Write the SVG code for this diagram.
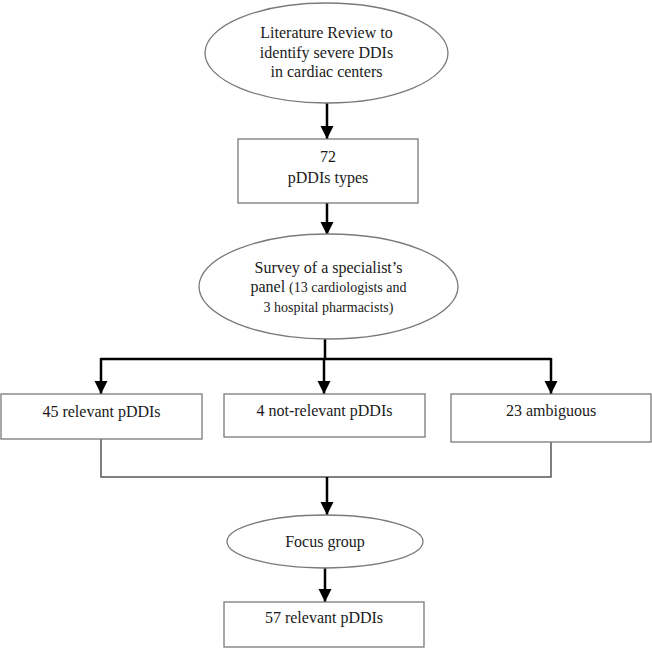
<svg xmlns="http://www.w3.org/2000/svg" width="652" height="648" viewBox="0 0 652 648">
<style>
  .shape { fill: #ffffff; stroke: #7a7a7a; stroke-width: 1.3; }
  .t { font-family: "Liberation Serif", "Times New Roman", serif; font-size: 16px; fill: #1a1a1a; text-anchor: middle; }
  .s { font-size: 14px; }
  .arrow { fill: none; stroke: #000000; stroke-width: 2.5; }
  .thin { fill: none; stroke: #555555; stroke-width: 1.5; }
</style>
<defs>
  <marker id="ah" markerUnits="userSpaceOnUse" markerWidth="14" markerHeight="14" viewBox="0 0 14 14" refX="13" refY="7" orient="auto">
    <path d="M0,0.5 L13,7 L0,13.5 Z" fill="#000000"/>
  </marker>
</defs>
<rect width="652" height="648" fill="#ffffff"/>

<g id="connectors">
  <path class="arrow" d="M327,103 L327,139" marker-end="url(#ah)"/>
  <path class="arrow" d="M327,203 L327,235" marker-end="url(#ah)"/>
  <path class="arrow" d="M325,339 L325,359"/>
  <path class="arrow" d="M101,359 L551,359"/>
  <path class="arrow" d="M101,358 L101,394" marker-end="url(#ah)"/>
  <path class="arrow" d="M324,358 L324,394" marker-end="url(#ah)"/>
  <path class="arrow" d="M551,358 L551,394" marker-end="url(#ah)"/>
  <path class="thin" d="M101,439 L101,477 L551,477 L551,442"/>
  <path class="arrow" d="M327,477 L327,515" marker-end="url(#ah)"/>
  <path class="arrow" d="M325,568 L325,602" marker-end="url(#ah)"/>
</g>

<g id="literature-review">
  <ellipse class="shape" cx="326.5" cy="53" rx="121.5" ry="50"/>
  <text class="t" x="326.5" y="38">Literature Review to</text>
  <text class="t" x="326.5" y="57.5">identify severe DDIs</text>
  <text class="t" x="326.5" y="77">in cardiac centers</text>
</g>

<g id="pddi-types">
  <rect class="shape" x="238" y="139" width="180" height="64"/>
  <text class="t" x="328" y="162">72</text>
  <text class="t" x="328" y="183">pDDIs types</text>
</g>

<g id="survey">
  <ellipse class="shape" cx="328.5" cy="286.5" rx="129.5" ry="52.5"/>
  <text class="t" x="328.5" y="273">Survey of a specialist’s</text>
  <text class="t" x="328.5" y="292">panel <tspan class="s">(13 cardiologists and</tspan></text>
  <text class="t s" x="328.5" y="312">3 hospital pharmacists)</text>
</g>

<g id="relevant">
  <rect class="shape" x="1" y="394" width="201" height="45"/>
  <text class="t" x="101.5" y="417">45 relevant pDDIs</text>
</g>

<g id="not-relevant">
  <rect class="shape" x="224" y="394" width="201" height="43"/>
  <text class="t" x="324.5" y="416">4 not-relevant pDDIs</text>
</g>

<g id="ambiguous">
  <rect class="shape" x="451" y="394" width="200" height="48"/>
  <text class="t" x="551" y="416">23 ambiguous</text>
</g>

<g id="focus-group">
  <ellipse class="shape" cx="325" cy="541.5" rx="98" ry="26.5"/>
  <text class="t" x="325" y="547">Focus group</text>
</g>

<g id="final-relevant">
  <rect class="shape" x="224" y="602" width="200" height="45"/>
  <text class="t" x="324" y="623">57 relevant pDDIs</text>
</g>
</svg>
